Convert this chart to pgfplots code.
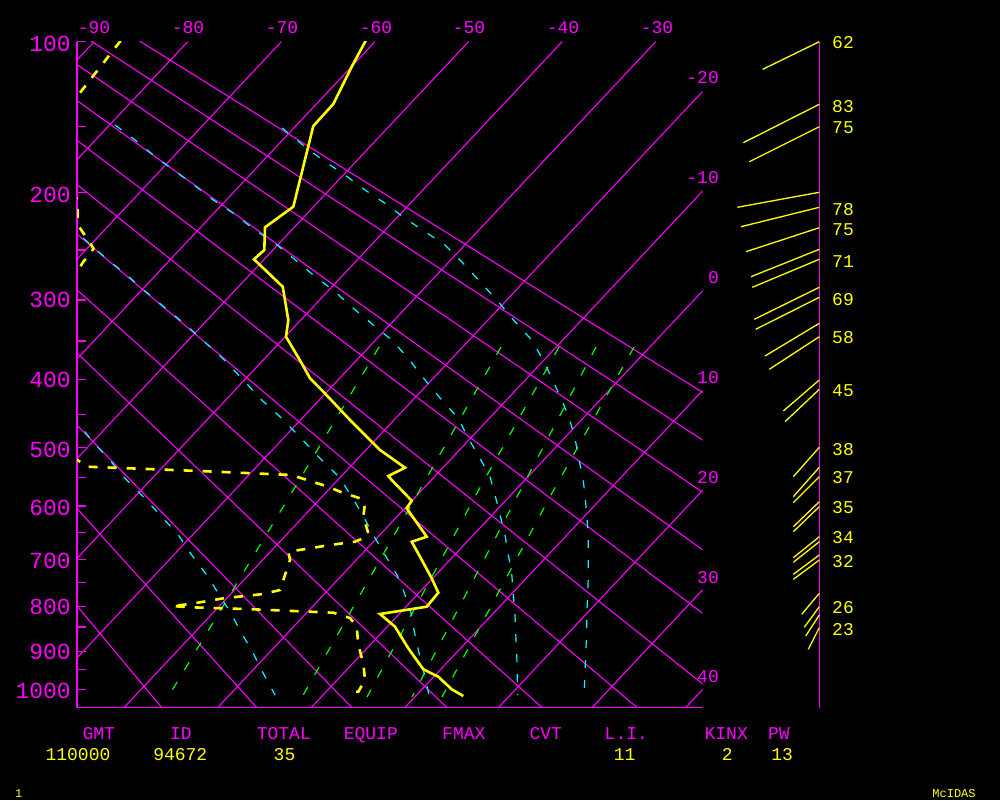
\documentclass[border=0pt]{standalone}
\usepackage{fontspec}
\setmainfont{Liberation Mono}
\usepackage{pgfplots}
\pgfplotsset{compat=1.18}
\definecolor{mag}{RGB}{255,0,255}
\definecolor{yel}{RGB}{255,255,0}
\definecolor{cya}{RGB}{0,255,255}
\definecolor{grn}{RGB}{0,255,0}
\newcommand\fbig{\fontsize{23}{23}\selectfont}
\newcommand\fmed{\fontsize{18}{18}\selectfont}
\newcommand\fsml{\fontsize{12}{12}\selectfont}
\tikzset{
  gl/.style={mag, line width=1.1pt},
  wind/.style={yel, line width=1.3pt},
  mix/.style={grn, line width=1.2pt, dash pattern=on 9pt off 14pt},
  moist/.style={cya, line width=1.2pt, dash pattern=on 8pt off 12pt},
  plab/.style={text=mag, font=\fbig, anchor=east, inner sep=0pt},
  tlab/.style={text=mag, font=\fmed, inner sep=0pt},
  ylab/.style={text=yel, font=\fmed, inner sep=0pt},
  hlab/.style={text=mag, font=\fmed, inner sep=0pt, anchor=base},
}
\begin{document}
\begin{tikzpicture}
\fill[black] (0,0) rectangle (1000pt,800pt);

% canvas in pixel units: frame, winds, text
\begin{axis}[at={(0pt,0pt)}, anchor=south west, scale only axis,
  width=1000pt, height=800pt, xmin=0, xmax=1000, ymin=0, ymax=800,
  y dir=reverse, hide axis, clip=false]
\addplot[gl] coordinates {(77,41.7) (77,707.7) (702.7,707.7)};
\addplot[gl] coordinates {(819.3,41.7) (819.3,707.7)};
\pgfplotsinvokeforeach{41.7,126.7,192.3,250,300,341,379.3,414.3,447.7,477.7,506,532.3,559.3,582.7,606.3,627,651.7,669.3,689.3}{
  \addplot[gl] coordinates {(77,#1) (86,#1)};
}
% pressure labels
\node[plab] at (axis cs:71,43.7) {100};
\node[plab] at (axis cs:71,195) {200};
\node[plab] at (axis cs:71,300) {300};
\node[plab] at (axis cs:71,380) {400};
\node[plab] at (axis cs:71,450) {500};
\node[plab] at (axis cs:71,508.3) {600};
\node[plab] at (axis cs:71,560.7) {700};
\node[plab] at (axis cs:71,607.2) {800};
\node[plab] at (axis cs:71,651.7) {900};
\node[plab] at (axis cs:71,690.7) {1000};
% isotherm labels
\node[tlab] at (axis cs:94,28) {-90};
\node[tlab] at (axis cs:188,28) {-80};
\node[tlab] at (axis cs:282,28) {-70};
\node[tlab] at (axis cs:376,28) {-60};
\node[tlab] at (axis cs:469,28) {-50};
\node[tlab] at (axis cs:563,28) {-40};
\node[tlab] at (axis cs:657,28) {-30};
\node[tlab, anchor=east] at (axis cs:719,78) {-20};
\node[tlab, anchor=east] at (axis cs:719,178) {-10};
\node[tlab, anchor=east] at (axis cs:719,278) {0};
\node[tlab, anchor=east] at (axis cs:719,378) {10};
\node[tlab, anchor=east] at (axis cs:719,478) {20};
\node[tlab, anchor=east] at (axis cs:719,577.5) {30};
\node[tlab, anchor=east] at (axis cs:719,677) {40};
% winds
\addplot[wind] coordinates {(819.3,41.7) (762.7,69.3)};
\addplot[wind] coordinates {(819.3,104.3) (743.3,142.7)};
\addplot[wind] coordinates {(819.3,126.7) (749.3,161.7)};
\addplot[wind] coordinates {(819.3,192.3) (737.3,207.3)};
\addplot[wind] coordinates {(819.3,207.3) (741,226.7)};
\addplot[wind] coordinates {(819.3,227.7) (746,251.7)};
\addplot[wind] coordinates {(819.3,249.3) (751,276.7)};
\addplot[wind] coordinates {(819.3,259.3) (752.3,287.3)};
\addplot[wind] coordinates {(819.3,287.3) (754.3,319.3)};
\addplot[wind] coordinates {(819.3,297.3) (755.7,329.3)};
\addplot[wind] coordinates {(819.3,323.3) (765,356)};
\addplot[wind] coordinates {(819.3,336.7) (769.3,369.3)};
\addplot[wind] coordinates {(819.3,380) (783.3,411)};
\addplot[wind] coordinates {(819.3,389.3) (785,421.7)};
\addplot[wind] coordinates {(819.3,447.3) (793.3,476.7)};
\addplot[wind] coordinates {(819.3,467.3) (793.3,496.7)};
\addplot[wind] coordinates {(819.3,476.7) (793.3,502.7)};
\addplot[wind] coordinates {(819.3,501.7) (793.3,526.7)};
\addplot[wind] coordinates {(819.3,506.7) (793.3,531.7)};
\addplot[wind] coordinates {(819.3,536.7) (793.3,557.7)};
\addplot[wind] coordinates {(819.3,541.7) (793.3,562.3)};
\addplot[wind] coordinates {(819.3,555) (793.3,574.3)};
\addplot[wind] coordinates {(819.3,560) (793.3,579.3)};
\addplot[wind] coordinates {(819.3,593.3) (801.7,614.3)};
\addplot[wind] coordinates {(819.3,606.7) (804.3,627.3)};
\addplot[wind] coordinates {(819.3,615) (805.7,636)};
\addplot[wind] coordinates {(819.3,627.7) (808.3,649.3)};
\node[ylab, anchor=west] at (axis cs:832,43) {62};
\node[ylab, anchor=west] at (axis cs:832,106.7) {83};
\node[ylab, anchor=west] at (axis cs:832,127.7) {75};
\node[ylab, anchor=west] at (axis cs:832,209.7) {78};
\node[ylab, anchor=west] at (axis cs:832,229.7) {75};
\node[ylab, anchor=west] at (axis cs:832,261.7) {71};
\node[ylab, anchor=west] at (axis cs:832,299.7) {69};
\node[ylab, anchor=west] at (axis cs:832,337.5) {58};
\node[ylab, anchor=west] at (axis cs:832,391) {45};
\node[ylab, anchor=west] at (axis cs:832,449.5) {38};
\node[ylab, anchor=west] at (axis cs:832,477.3) {37};
\node[ylab, anchor=west] at (axis cs:832,507.3) {35};
\node[ylab, anchor=west] at (axis cs:832,537.3) {34};
\node[ylab, anchor=west] at (axis cs:832,561.7) {32};
\node[ylab, anchor=west] at (axis cs:832,607.5) {26};
\node[ylab, anchor=west] at (axis cs:832,629.5) {23};
% indices
\node[hlab] at (axis cs:98.8,739.7) {GMT};
\node[hlab] at (axis cs:180.8,739.7) {ID};
\node[hlab] at (axis cs:283.8,739.7) {TOTAL};
\node[hlab] at (axis cs:370.8,739.7) {EQUIP};
\node[hlab] at (axis cs:463.8,739.7) {FMAX};
\node[hlab] at (axis cs:545.8,739.7) {CVT};
\node[hlab] at (axis cs:626.3,739.7) {L.I.};
\node[hlab] at (axis cs:726.2,739.7) {KINX};
\node[hlab] at (axis cs:778.8,739.7) {PW};
\node[ylab] at (axis cs:78,754.5) {110000};
\node[ylab] at (axis cs:180.3,754.5) {94672};
\node[ylab] at (axis cs:284.5,754.5) {35};
\node[ylab] at (axis cs:624.7,754.5) {11};
\node[ylab] at (axis cs:727.2,754.5) {2};
\node[ylab] at (axis cs:782.2,754.5) {13};
\node[text=yel, font=\fsml, inner sep=0pt] at (axis cs:18.7,794) {1};
\node[text=yel, font=\fsml, inner sep=0pt] at (axis cs:954,793.5) {McIDAS};
\end{axis}

% diagram area, clipped
\begin{axis}[at={(77pt,92.3pt)}, anchor=south west, scale only axis,
  width=625.7pt, height=666pt, xmin=77, xmax=702.7, ymin=41.7, ymax=707.7,
  y dir=reverse, hide axis]
% isotherms -90 ... 40
\addplot[gl] coordinates {(94.1,41.7) (-531.3,707.7)};
\addplot[gl] coordinates {(187.7,41.7) (-437.7,707.7)};
\addplot[gl] coordinates {(281.3,41.7) (-344.1,707.7)};
\addplot[gl] coordinates {(374.9,41.7) (-250.5,707.7)};
\addplot[gl] coordinates {(468.5,41.7) (-156.9,707.7)};
\addplot[gl] coordinates {(562.1,41.7) (-63.3,707.7)};
\addplot[gl] coordinates {(655.7,41.7) (30.3,707.7)};
\addplot[gl] coordinates {(749.3,41.7) (123.9,707.7)};
\addplot[gl] coordinates {(842.9,41.7) (217.5,707.7)};
\addplot[gl] coordinates {(936.5,41.7) (311.1,707.7)};
\addplot[gl] coordinates {(1030.1,41.7) (404.7,707.7)};
\addplot[gl] coordinates {(1123.7,41.7) (498.3,707.7)};
\addplot[gl] coordinates {(1217.3,41.7) (591.9,707.7)};
\addplot[gl] coordinates {(1310.9,41.7) (685.5,707.7)};
% dry adiabats, all through one far point
\pgfplotsinvokeforeach{161.9,256.9,352.0,447.1,542.2,637.3,732.4,827.5,922.6,1017.7,1112.8,1207.9}{
  \addplot[gl] coordinates {(-972.6,-653.1) (#1,707.7)};
}
% mixing ratio lines
\addplot[mix] coordinates {(379,347) (291.5,493) (168,697)};
\addplot[mix] coordinates {(501,347) (418,493) (302,697)};
\addplot[mix] coordinates {(559,347) (477,493) (367,697)};
\addplot[mix] coordinates {(596,347) (519,493) (412,697)};
\addplot[mix] coordinates {(634,347) (552,493) (442,697)};
% saturated adiabats
\addplot[moist] coordinates {(60,400) (77,421.7) (92.7,441.7) (108.3,458.3) (124,477.3) (143.3,496.7) (161.7,516.7) (178.3,535) (191.7,555) (206.7,575) (218.3,593.3) (230,611.7) (241.7,633.3) (253.3,653.3) (263.3,673.3) (275,695)};
\addplot[moist] coordinates {(68,225) (87.3,241.7) (106,258.3) (126,274.3) (145.7,291.7) (165.7,308.3) (186,325) (205,342.3) (223.3,359) (242.7,379.3) (261.7,400) (281.7,418.3) (301.7,439) (320,458.3) (339.3,477.3) (351.7,496.7) (361.7,513.3) (373.3,535) (385,555) (397,575) (404,592) (411,613) (414,630) (419,653) (424,673) (429,695)};
\addplot[moist] coordinates {(115,125) (135,140) (153.3,155) (173.3,170) (191.7,183.3) (213.3,200) (233.3,213.3) (255,230) (275,243.3) (293.3,258.3) (313.3,275) (335,291.7) (353.3,308.3) (373.3,325) (391.7,340) (408.3,358.3) (425,380) (441.7,400) (458.3,418.3) (468.3,438.3) (480,458.3) (490,476.7) (495,495) (500,515) (505,535) (508.3,555) (511.7,573.3) (513.3,595) (515,615) (515.7,633.3) (516.7,653.3) (517.7,695)};
\addplot[moist] coordinates {(282,128) (305,146.7) (325,161.7) (345,175) (365,190) (385,203.3) (405,218.3) (425,231.7) (445,245) (461.7,261.7) (480,281.7) (498.3,301.7) (515,321.7) (531.7,340) (542,358) (551.7,378) (561.7,400) (569.3,418.3) (575,438.3) (578.3,456.7) (582.7,476.7) (585,495) (586.7,515) (588.3,535) (588.3,555) (588.3,575) (587.7,595) (586.7,615) (586.7,633.3) (585.7,653.3) (585,673.3) (584,695)};
% dewpoint
\addplot[yel, line width=2.6pt, dash pattern=on 9pt off 10pt] coordinates {(120.7,40.7) (82.7,89.3) (70,105) (62,150) (70,190) (77.5,200) (77.5,216) (78,225) (93.5,248.5) (90.5,253.3) (83.3,261.7) (77,272) (60,300) (55,400) (70,455) (83.3,464) (87.3,466.7) (200,471) (291.7,475) (301.7,478.3) (328.3,486.7) (340,491.7) (360,498.3) (365,503.3) (363.3,516.7) (368.3,533.3) (366.7,536.7) (355,541.7) (330,545) (310,548.3) (288.3,551.7) (290,560) (283.3,580) (280,590) (263.3,594) (223.3,598.3) (190,604) (171.7,606) (191.7,607.3) (253.3,609.3) (333.3,612.7) (350,618) (356.7,626.7) (358.3,645) (363.3,663.3) (365,680) (358.3,691.7) (353,692)};
% temperature
\addplot[yel, line width=2.6pt] coordinates {(365.7,40.7) (351.7,66.7) (333.3,104) (313.3,126) (293.3,206.7) (265,227.3) (264.3,250) (254,259.3) (282.7,286.7) (288.3,320) (286,336.7) (301.7,363.3) (310,378.3) (323.3,391.7) (350,420) (373.3,443.3) (380,450) (405,467.7) (388.3,476) (391.7,480) (411.7,500.7) (406.7,508.3) (426.7,536.7) (411.7,541.7) (420,556.7) (431.7,578.3) (438.3,592.7) (426.7,606.7) (380,614) (395,626.7) (408.3,648.3) (423.3,669.3) (438.3,676.7) (451.7,689.3) (463.3,696)};
\end{axis}
\pgfresetboundingbox
\useasboundingbox (0,0) rectangle (1000pt,800pt);
\end{tikzpicture}
\end{document}
